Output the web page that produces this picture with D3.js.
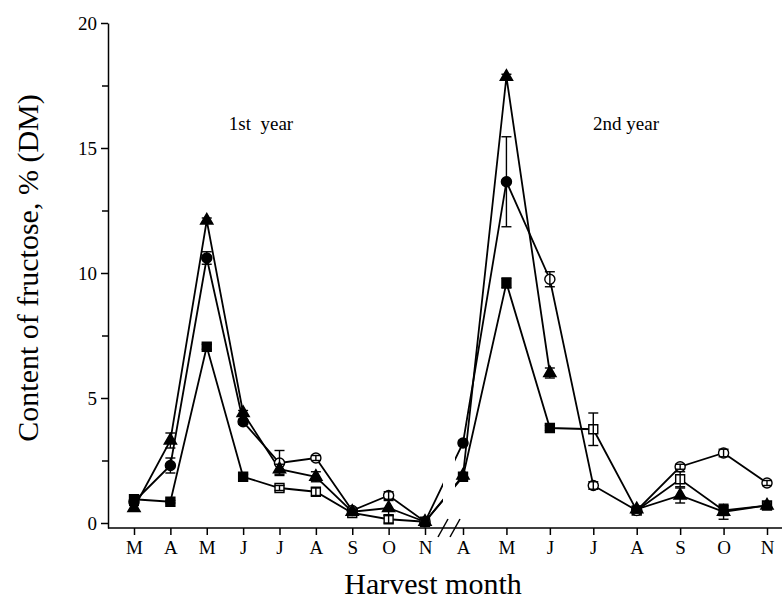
<!DOCTYPE html>
<html lang="en">
<head>
    <meta charset="UTF-8">
    <title>Fructose content by harvest month</title>
    <script src="https://cdn.jsdelivr.net/npm/d3@7/dist/d3.min.js"></script>
    <style>
        body { margin: 0; background: #fff; }
        svg text { font-family: "Liberation Serif", "Times New Roman", serif; fill: #000; }
        .axis path, .axis line { stroke: #000; stroke-width: 1.5; }
        .series { fill: none; stroke: #000; stroke-width: 1.8; }
        .err { stroke: #000; stroke-width: 1.4; }
    </style>
</head>
<body>
    <svg width="782" height="601"></svg>
    <script>
        // harvest months, first year then second year
        const months = ["M","A","M","J","J","A","S","O","N","A","M","J","J","A","S","O","N"];
        const yearLabels = ["1st  year", "2nd year"];
        const yTicks = [0, 5, 10, 15, 20];

        // filled/open marker flag per point: 1 = filled, 0 = open
        const squareVals = [0.95, 0.85, 7.05, 1.85, 1.4, 1.25, 0.4, 0.15, 0.05, 1.85, 9.6, 3.8, 3.75, 0.5, 1.75, 0.5, 0.7];
        const squareErr  = [0.1, 0.05, 0.1, 0.1, 0.1, 0.15, 0.1, 0.15, 0.1, 0.1, 0.2, 0.1, 0.65, 0.1, 0.3, 0.2, 0.15];
        const squareFill = [1, 1, 1, 1, 0, 0, 0, 0, 0, 1, 1, 1, 0, 0, 0, 1, 0];

        const circleVals = [0.85, 2.3, 10.6, 4.05, 2.4, 2.6, 0.5, 1.1, 0.05, 3.2, 13.65, 9.75, 1.5, 0.5, 2.25, 2.8, 1.6];
        const circleErr  = [0.1, 0.3, 0.25, 0.1, 0.5, 0.1, 0.1, 0.15, 0.1, 0.1, 1.8, 0.3, 0.15, 0.1, 0.1, 0.15, 0.1];
        const circleFill = [1, 1, 1, 1, 0, 0, 0, 0, 0, 1, 1, 0, 0, 0, 0, 0, 0];

        const triVals = [0.6, 3.3, 12.1, 4.4, 2.15, 1.85, 0.45, 0.6, 0.05, 1.9, 17.85, 6.0, null, 0.55, 1.1, 0.45, 0.7];
        const triErr  = [0.1, 0.3, 0.1, 0.1, 0.2, 0.2, 0.1, 0.3, 0.1, 0.1, 0.1, 0.2, null, 0.1, 0.3, 0.3, 0.1];
        const triFill = [1, 1, 1, 1, 1, 1, 1, 1, 1, 1, 1, 1, null, 1, 1, 1, 1];

        const series = [
            { symbol: d3.symbolSquare, size: 80, vals: squareVals, errs: squareErr, fill: squareFill },
            { symbol: d3.symbolCircle, size: 80, vals: circleVals, errs: circleErr, fill: circleFill },
            { symbol: d3.symbolTriangle, size: 66, vals: triVals, errs: triErr, fill: triFill }
        ];

        const svg = d3.select("svg");
        const width = +svg.attr("width");

        const left = 108, bottom = 528, topY = 23;
        // two x segments with a break between November and April
        const x = d3.scaleLinear()
            .domain([0, 8, 9, 16])
            .range([134, 425, 463, 767]);
        const y = d3.scaleLinear()
            .domain([-0.2, 20])
            .range([bottom, topY]);

        // break band in x where the connecting lines are blanked
        const gapL = 443, gapR = 455;
        const defs = svg.append("defs");
        const clip = defs.append("clipPath").attr("id", "brk");
        clip.append("rect").attr("x", 0).attr("y", 0).attr("width", gapL).attr("height", 601);
        clip.append("rect").attr("x", gapR).attr("y", 0).attr("width", width - gapR).attr("height", 601);

        // y axis: major + minor ticks
        svg.append("g")
            .attr("class", "axis")
            .attr("transform", `translate(${left},0)`)
            .call(d3.axisLeft(y).tickValues(yTicks).tickSize(7).tickSizeOuter(0).tickPadding(4))
            .call(g => g.selectAll("text").style("font-size", "19px"));
        svg.append("g")
            .attr("class", "axis")
            .attr("transform", `translate(${left},0)`)
            .call(d3.axisLeft(y).tickValues([2.5, 7.5, 12.5, 17.5]).tickFormat("").tickSize(6))
            .call(g => g.select(".domain").remove());

        // x axis
        const xg = svg.append("g")
            .attr("class", "axis")
            .attr("transform", `translate(0,${bottom})`)
            .call(d3.axisBottom(x).tickValues(d3.range(months.length)).tickFormat(i => months[i]).tickSize(7).tickSizeOuter(0).tickPadding(6));
        xg.select(".domain").remove();
        xg.selectAll("text").style("font-size", "19px");
        xg.append("line").attr("x1", left).attr("x2", width).attr("y1", 0).attr("y2", 0);

        // axis break marks
        const bx = [443, 455];
        svg.append("g").selectAll("line")
            .data(bx)
            .join("line")
            .attr("x1", d => d - 5).attr("y1", bottom + 9)
            .attr("x2", d => d + 5).attr("y2", bottom - 9)
            .attr("stroke", "#000").attr("stroke-width", 1.5);

        // connecting lines
        const line = d3.line()
            .defined(d => d[1] != null)
            .x(d => x(d[0]))
            .y(d => y(d[1]));

        svg.append("g")
            .attr("clip-path", "url(#brk)")
            .selectAll("path")
            .data(series)
            .join("path")
            .attr("class", "series")
            .attr("d", s => line(s.vals.map((v, i) => [i, v])));

        // markers
        const pts = series.flatMap(s => s.vals.map((v, i) => ({ s, i, v, e: s.errs[i], f: s.fill[i] })))
            .filter(p => p.v != null);

        svg.append("g").selectAll("path")
            .data(pts)
            .join("path")
            .attr("transform", p => `translate(${x(p.i)},${y(p.v)})`)
            .attr("d", p => d3.symbol(p.s.symbol, p.s.size)())
            .attr("fill", p => p.f ? "#000" : "#fff")
            .attr("stroke", "#000")
            .attr("stroke-width", 1.4);

        // error bars drawn over the markers
        const eg = svg.append("g").selectAll("g")
            .data(pts)
            .join("g")
            .attr("class", "err");
        eg.append("line")
            .attr("x1", p => x(p.i)).attr("x2", p => x(p.i))
            .attr("y1", p => y(p.v - p.e)).attr("y2", p => y(p.v + p.e));
        eg.selectAll(".cap")
            .data(p => [p.v - p.e, p.v + p.e].map(val => ({ i: p.i, val })))
            .join("line")
            .attr("class", "cap")
            .attr("x1", d => x(d.i) - 5).attr("x2", d => x(d.i) + 5)
            .attr("y1", d => y(d.val)).attr("y2", d => y(d.val));

        // year labels
        svg.selectAll(".yr")
            .data(yearLabels)
            .join("text")
            .attr("class", "yr")
            .attr("x", (d, i) => i === 0 ? 261 : 626)
            .attr("y", 130)
            .attr("text-anchor", "middle")
            .style("font-size", "19px")
            .style("white-space", "pre")
            .text(d => d);

        // axis titles
        svg.append("text")
            .attr("x", 433).attr("y", 594)
            .attr("text-anchor", "middle")
            .style("font-size", "30px")
            .text("Harvest month");
        svg.append("text")
            .attr("transform", "translate(38,268) rotate(-90)")
            .attr("text-anchor", "middle")
            .style("font-size", "30px")
            .text("Content of fructose, % (DM)");
    </script>
</body>
</html>
